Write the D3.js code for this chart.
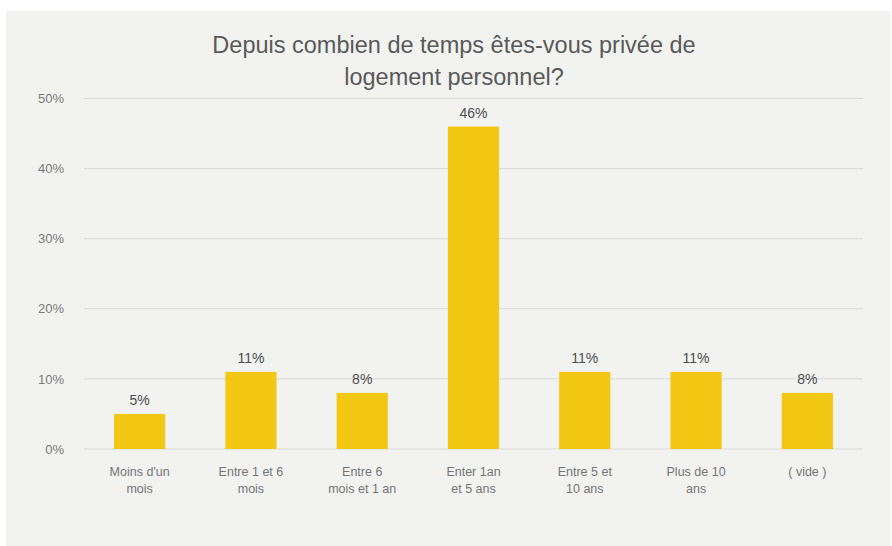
<!DOCTYPE html>
<html>
<head>
<meta charset="utf-8">
<script src="https://cdn.jsdelivr.net/npm/d3@7"></script>
<style>
  body { margin: 0; background: #fff; }
  svg { display: block; font-family: "Liberation Sans", Arial, sans-serif; }
</style>
</head>
<body>
<div id="chart"></div>
<script>
var categories = [
  ["Moins d'un", "mois"],
  ["Entre 1 et 6", "mois"],
  ["Entre 6", "mois et 1 an"],
  ["Enter 1an", "et 5 ans"],
  ["Entre 5 et", "10 ans"],
  ["Plus de 10", "ans"],
  ["( vide )"]
];
var values = [5, 11, 8, 46, 11, 11, 8];
var yTicks = [0, 10, 20, 30, 40, 50];
var titleLines = ["Depuis combien de temps êtes-vous privée de", "logement personnel?"];

function init() {
  var w = 892, h = 546;
  var left = 84, right = 863, top = 98.5, bottom = 449;

  var svg = d3.select("#chart").append("svg")
    .attr("width", w)
    .attr("height", h);

  svg.append("rect")
    .attr("x", 6).attr("y", 11)
    .attr("width", w - 7).attr("height", h - 11)
    .attr("fill", "#f2f2f1");

  var xScale = d3.scaleBand()
    .domain(d3.range(categories.length))
    .range([left, right])
    .paddingInner(0.54)
    .paddingOuter(0.27);

  var yScale = d3.scaleLinear()
    .domain([0, 50])
    .range([bottom, top]);

  // gridlines
  svg.append("g")
    .selectAll("line")
    .data(yTicks)
    .enter().append("line")
    .attr("x1", left).attr("x2", right)
    .attr("y1", function(d) { return yScale(d); })
    .attr("y2", function(d) { return yScale(d); })
    .attr("stroke", "#d9d9d9")
    .attr("stroke-width", 1);

  var yAxis = d3.axisLeft(yScale)
    .tickValues(yTicks)
    .tickFormat(function(d) { return d + "%"; })
    .tickSize(0)
    .tickPadding(20);

  var gy = svg.append("g")
    .attr("transform", "translate(" + left + ",0)")
    .call(yAxis);
  gy.select(".domain").remove();
  gy.selectAll("text")
    .attr("fill", "#7a7a7a")
    .attr("font-size", "13px")
    .attr("font-family", "Liberation Sans, Arial, sans-serif");

  svg.append("g")
    .selectAll("rect")
    .data(values)
    .enter().append("rect")
    .attr("x", function(d, i) { return xScale(i); })
    .attr("y", function(d) { return yScale(d); })
    .attr("width", xScale.bandwidth())
    .attr("height", function(d) { return bottom - yScale(d); })
    .attr("fill", "#f2c814");

  svg.append("g")
    .selectAll("text")
    .data(values)
    .enter().append("text")
    .attr("x", function(d, i) { return xScale(i) + xScale.bandwidth() / 2; })
    .attr("y", function(d) { return yScale(d) - 8.5; })
    .attr("text-anchor", "middle")
    .attr("font-size", "14px")
    .attr("fill", "#4d4d4d")
    .text(function(d) { return d + "%"; });

  var labels = svg.append("g")
    .selectAll("text")
    .data(categories)
    .enter().append("text")
    .attr("x", function(d, i) { return xScale(i) + xScale.bandwidth() / 2; })
    .attr("y", 476)
    .attr("text-anchor", "middle")
    .attr("font-size", "12.5px")
    .attr("fill", "#757575");
  labels.selectAll("tspan")
    .data(function(d) { return d; })
    .enter().append("tspan")
    .attr("x", function() { return d3.select(this.parentNode).attr("x"); })
    .attr("dy", function(d, i) { return i === 0 ? 0 : 16.5; })
    .text(function(d) { return d; });

  svg.append("g")
    .selectAll("text")
    .data(titleLines)
    .enter().append("text")
    .attr("x", 454)
    .attr("y", function(d, i) { return 53 + i * 32; })
    .attr("text-anchor", "middle")
    .attr("font-size", "23.5px")
    .attr("fill", "#595959")
    .text(function(d) { return d; });
}

window.onload = init;
</script>
</body>
</html>
